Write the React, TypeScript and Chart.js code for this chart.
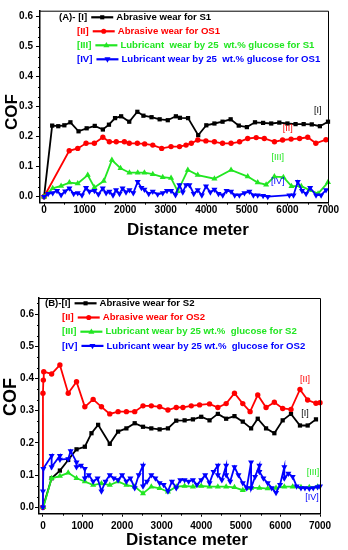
import React, { useEffect, useRef } from 'react';
import { Chart, registerables } from 'chart.js';

Chart.register(...registerables);

const FONT = "'Liberation Sans', Arial, Helvetica, sans-serif";
const COLORS = ['#000000', '#ff0000', '#22e622', '#0000ff'];
const POINT_STYLES = ['rect', 'circle', 'triangle', 'triangle'];
const POINT_ROT = [0, 0, 0, 180];
const POINT_R = [3.0, 2.7, 3.5, 3.5];
const DRAW_ORDER = [3, 2, 1, 0];

const xTickVals = [0, 1000, 2000, 3000, 4000, 5000, 6000, 7000];
const yTickVals = [0, 0.1, 0.2, 0.3, 0.4, 0.5, 0.6];
const xTitle = 'Distance meter';
const yTitle = 'COF';
const noteTags = ['[I]', '[II]', '[III]', '[IV]'];

// ---------- Panel A ----------
const aTags = ['(A)- [I]', '[II]', '[III]', '[IV]'];
const aLabels = [
  'Abrasive wear for S1',
  'Abrasive wear for OS1',
  'Lubricant  wear by 25  wt.% glucose for S1',
  'Lubricant wear by 25  wt.% glucose for OS1',
];
const aS1X = [0, 200, 350, 500, 650, 850, 1050, 1250, 1450, 1600, 1750, 1900, 2100, 2300, 2450, 2650, 2850, 3050, 3250, 3350, 3550, 3800, 4000, 4200, 4400, 4600, 4800, 5000, 5200, 5400, 5600, 5800, 6000, 6200, 6400, 6600, 6800, 7000];
const aS1Y = [0.0, 0.237, 0.235, 0.238, 0.248, 0.218, 0.228, 0.236, 0.224, 0.24, 0.262, 0.268, 0.25, 0.283, 0.27, 0.265, 0.258, 0.255, 0.268, 0.263, 0.262, 0.205, 0.238, 0.244, 0.25, 0.258, 0.237, 0.232, 0.248, 0.246, 0.244, 0.247, 0.244, 0.242, 0.242, 0.241, 0.235, 0.25];
const aOS1X = [0, 620, 830, 1035, 1240, 1450, 1610, 1780, 1980, 2100, 2300, 2480, 2680, 2900, 3130, 3340, 3500, 3630, 3790, 3990, 4200, 4400, 4610, 4820, 5020, 5230, 5430, 5680, 5880, 6090, 6300, 6500, 6700, 6950];
const aOS1Y = [0.0, 0.153, 0.161, 0.178, 0.178, 0.198, 0.183, 0.183, 0.183, 0.178, 0.178, 0.176, 0.172, 0.161, 0.167, 0.167, 0.172, 0.178, 0.189, 0.186, 0.183, 0.178, 0.178, 0.183, 0.194, 0.197, 0.194, 0.183, 0.189, 0.192, 0.194, 0.198, 0.178, 0.19];
const aGS1X = [0, 214, 420, 625, 830, 1077, 1242, 1472, 1672, 1885, 2105, 2309, 2474, 2680, 2926, 3131, 3296, 3544, 3789, 4200, 4610, 5021, 5267, 5475, 5678, 5900, 6100, 6341, 6548, 6755, 7000];
const aGS1Y = [0.0, 0.028, 0.036, 0.047, 0.044, 0.072, 0.031, 0.052, 0.122, 0.095, 0.08, 0.08, 0.08, 0.075, 0.065, 0.062, 0.018, 0.089, 0.072, 0.06, 0.089, 0.067, 0.047, 0.04, 0.067, 0.065, 0.035, 0.035, 0.022, 0.01, 0.048];
const aGOS1X = [0, 100, 214, 320, 420, 520, 625, 730, 830, 935, 1035, 1118, 1242, 1340, 1447, 1530, 1611, 1700, 1775, 1860, 1935, 2020, 2105, 2200, 2309, 2400, 2474, 2580, 2680, 2800, 2926, 3030, 3131, 3240, 3337, 3420, 3500, 3584, 3690, 3789, 3890, 3993, 4100, 4200, 4300, 4405, 4500, 4610, 4700, 4815, 4940, 5062, 5160, 5267, 5400, 5516, 6048, 6150, 6255, 6360, 6460, 6560, 6705, 6830, 6951];
const aGOS1Y = [0.0, 0.01, 0.012, 0.02, 0.006, 0.018, 0.028, 0.01, 0.012, 0.005, 0.03, 0.017, 0.02, 0.008, 0.028, 0.012, 0.017, 0.005, 0.022, 0.01, 0.028, 0.015, 0.022, 0.012, 0.05, 0.03, 0.024, 0.01, 0.017, 0.008, 0.012, 0.02, 0.02, 0.006, 0.039, 0.015, 0.039, 0.039, 0.01, 0.022, 0.005, 0.035, 0.015, 0.024, 0.01, 0.005, 0.02, 0.017, 0.005, 0.005, 0.012, 0.017, 0.005, 0.005, 0.003, 0.0, 0.005, 0.005, 0.05, 0.02, 0.01, 0.03, 0.005, 0.005, 0.022];

// ---------- Panel B ----------
const bTags = ['(B)-[I]', '[II]', '[III]', '[IV]'];
const bLabels = [
  'Abrasive wear for S2',
  'Abrasive wear for OS2',
  'Lubricant wear by 25 wt.%  glucose for S2',
  'Lubricant wear by 25 wt.%  glucose for OS2',
];
const bS2X = [0, 219, 428, 638, 848, 1058, 1226, 1394, 1688, 1898, 2108, 2318, 2528, 2738, 2948, 3158, 3368, 3579, 3789, 3999, 4209, 4419, 4629, 4839, 5049, 5259, 5427, 5637, 5847, 6057, 6267, 6494, 6688, 6898];
const bS2Y = [0.0, 0.09, 0.114, 0.147, 0.18, 0.188, 0.23, 0.256, 0.197, 0.235, 0.245, 0.261, 0.25, 0.245, 0.242, 0.245, 0.269, 0.27, 0.273, 0.281, 0.27, 0.29, 0.275, 0.283, 0.266, 0.245, 0.275, 0.245, 0.23, 0.27, 0.29, 0.254, 0.254, 0.273];
const bOS2X = [0, 0, 10, 20, 219, 428, 638, 848, 1058, 1268, 1478, 1688, 1898, 2108, 2318, 2528, 2738, 2948, 3158, 3368, 3537, 3747, 3957, 4209, 4419, 4629, 4839, 5049, 5234, 5427, 5637, 5847, 6057, 6267, 6494, 6688, 6898, 7000];
const bOS2Y = [0.0, 0.354, 0.395, 0.421, 0.414, 0.442, 0.354, 0.39, 0.312, 0.335, 0.312, 0.29, 0.297, 0.297, 0.297, 0.315, 0.315, 0.312, 0.302, 0.31, 0.31, 0.315, 0.318, 0.321, 0.31, 0.322, 0.354, 0.322, 0.297, 0.349, 0.31, 0.326, 0.307, 0.304, 0.366, 0.333, 0.323, 0.325];
const bGS2X = [10, 219, 428, 638, 848, 1058, 1268, 1478, 1688, 1898, 2108, 2318, 2528, 2738, 2948, 3158, 3368, 3579, 3789, 3999, 4209, 4419, 4629, 4839, 5049, 5259, 5469, 5679, 5889, 6099, 6309, 6519, 6729, 6939];
const bGS2Y = [0.0, 0.09, 0.097, 0.107, 0.09, 0.08, 0.069, 0.074, 0.069, 0.08, 0.069, 0.064, 0.043, 0.064, 0.059, 0.048, 0.064, 0.066, 0.064, 0.066, 0.064, 0.064, 0.064, 0.062, 0.053, 0.06, 0.06, 0.058, 0.06, 0.064, 0.064, 0.062, 0.062, 0.064];
const bGOS2X = [0, 0, 10, 219, 219, 428, 428, 638, 700, 848, 848, 960, 1058, 1058, 1160, 1268, 1380, 1478, 1580, 1688, 1790, 1898, 2000, 2108, 2210, 2318, 2420, 2528, 2528, 2630, 2738, 2840, 2948, 3050, 3158, 3260, 3368, 3470, 3579, 3680, 3789, 3890, 3999, 4100, 4209, 4310, 4419, 4419, 4520, 4629, 4629, 4730, 4839, 4940, 5049, 5150, 5259, 5259, 5360, 5469, 5469, 5570, 5679, 5780, 5889, 5990, 6099, 6099, 6200, 6309, 6410, 6519, 6620, 6729, 6830, 6939, 7000];
const bGOS2Y = [0.0, 0.05, 0.12, 0.16, 0.125, 0.16, 0.148, 0.15, 0.175, 0.14, 0.125, 0.13, 0.12, 0.09, 0.1, 0.08, 0.09, 0.05, 0.08, 0.1, 0.09, 0.085, 0.1, 0.08, 0.09, 0.06, 0.1, 0.13, 0.065, 0.08, 0.1, 0.09, 0.075, 0.07, 0.05, 0.08, 0.06, 0.085, 0.085, 0.08, 0.085, 0.07, 0.085, 0.1, 0.075, 0.11, 0.13, 0.1, 0.085, 0.13, 0.1, 0.08, 0.125, 0.1, 0.075, 0.06, 0.14, 0.06, 0.095, 0.13, 0.11, 0.09, 0.075, 0.06, 0.045, 0.07, 0.125, 0.09, 0.105, 0.095, 0.065, 0.06, 0.06, 0.058, 0.06, 0.063, 0.065];

type Panel = {
  tags: string[];
  labels: string[];
  xs: number[][];
  ys: number[][];
  yMin: number;
  yMax: number;
  padTop: number;
  padRight: number;
  padBottom: number;
  yWidth: number;
  yTickPad: number;
  xTickPad: number;
  legendX0: number;
  legendX: number;
  legendY0: number;
  legendDy: number;
  notes: [number, number][];
  xTitleX: number;
  xTitleY: number;
  yTitleX: number;
  yTitleY: number;
  yTitleSize: number;
};

const panelA: Panel = {
  tags: aTags,
  labels: aLabels,
  xs: [aS1X, aOS1X, aGS1X, aGOS1X],
  ys: [aS1Y, aOS1Y, aGS1Y, aGOS1Y],
  yMin: -0.02,
  yMax: 0.62,
  padTop: 10.7,
  padRight: 20,
  padBottom: 42.3,
  yWidth: 40,
  yTickPad: 3,
  xTickPad: 0,
  legendX0: 59,
  legendX: 77,
  legendY0: 17.3,
  legendDy: 14,
  notes: [[6747, 0.286], [6006, 0.226], [5760, 0.129], [5760, 0.049]],
  xTitleX: 188,
  xTitleY: 235,
  yTitleX: 12.5,
  yTitleY: 112,
  yTitleSize: 17,
};

const panelB: Panel = {
  tags: bTags,
  labels: bLabels,
  xs: [bS2X, bOS2X, bGS2X, bGOS2X],
  ys: [bS2Y, bOS2Y, bGS2Y, bGOS2Y],
  yMin: -0.02,
  yMax: 0.65,
  padTop: 23,
  padRight: 28,
  padBottom: 6.3,
  yWidth: 39,
  yTickPad: 1,
  xTickPad: 5,
  legendX0: 45,
  legendX: 62,
  legendY0: 28.3,
  legendDy: 14.2,
  notes: [[6620, 0.29], [6620, 0.398], [6822, 0.107], [6796, 0.029]],
  xTitleX: 187,
  xTitleY: 270,
  yTitleX: 11.5,
  yTitleY: 122,
  yTitleSize: 18,
};

function drawMarker(ctx: CanvasRenderingContext2D, kind: number, x: number, y: number, r: number) {
  ctx.beginPath();
  if (kind === 0) {
    const s = r * 1.45;
    ctx.rect(x - s / 2, y - s / 2, s, s);
  } else if (kind === 1) {
    ctx.arc(x, y, r, 0, Math.PI * 2);
  } else if (kind === 2) {
    ctx.moveTo(x, y - r);
    ctx.lineTo(x + r * 0.9, y + r * 0.6);
    ctx.lineTo(x - r * 0.9, y + r * 0.6);
    ctx.closePath();
  } else {
    ctx.moveTo(x, y + r);
    ctx.lineTo(x + r * 0.9, y - r * 0.6);
    ctx.lineTo(x - r * 0.9, y - r * 0.6);
    ctx.closePath();
  }
  ctx.fill();
}

function makeDecor(p: Panel) {
  return {
    id: 'decor',
    afterDraw(chart: any) {
      const { ctx, chartArea: ca, scales } = chart;
      const sx = scales.x;
      const sy = scales.y;
      ctx.save();
      // frame top / right
      ctx.strokeStyle = '#000';
      ctx.lineWidth = 1;
      ctx.beginPath();
      ctx.moveTo(ca.left, ca.top + 0.5);
      ctx.lineTo(ca.right + 0.5, ca.top + 0.5);
      ctx.lineTo(ca.right + 0.5, ca.bottom);
      ctx.stroke();
      // minor ticks
      ctx.beginPath();
      for (let i = 0; i < yTickVals.length; i++) {
        for (const f of [1 / 3, 2 / 3]) {
          const v = yTickVals[i] + 0.1 * f;
          if (v > sy.max) continue;
          const py = Math.round(sy.getPixelForValue(v)) + 0.5;
          ctx.moveTo(ca.left, py);
          ctx.lineTo(ca.left - 2, py);
        }
      }
      for (let i = 0; i < xTickVals.length - 1; i++) {
        const v = (xTickVals[i] + xTickVals[i + 1]) / 2;
        const px = Math.round(sx.getPixelForValue(v)) + 0.5;
        ctx.moveTo(px, ca.bottom);
        ctx.lineTo(px, ca.bottom + 2);
      }
      ctx.stroke();

      // legend
      ctx.font = `bold 9.6px ${FONT}`;
      ctx.textBaseline = 'middle';
      ctx.textAlign = 'left';
      for (let i = 0; i < p.labels.length; i++) {
        const col = COLORS[i];
        const y = p.legendY0 + i * p.legendDy;
        let x = i === 0 ? p.legendX0 : p.legendX;
        ctx.fillStyle = col;
        ctx.fillText(p.tags[i], x, y);
        x += ctx.measureText(p.tags[i]).width + 4;
        ctx.strokeStyle = col;
        ctx.lineWidth = 2.2;
        ctx.beginPath();
        ctx.moveTo(x, y);
        ctx.lineTo(x + 22, y);
        ctx.stroke();
        drawMarker(ctx, i, x + 11, y, POINT_R[i] * 0.95);
        x += 25;
        ctx.fillText(p.labels[i], x, y);
      }

      // annotations
      ctx.font = `9px ${FONT}`;
      ctx.textAlign = 'center';
      for (let i = 0; i < p.notes.length; i++) {
        ctx.fillStyle = COLORS[i];
        ctx.fillText(noteTags[i], sx.getPixelForValue(p.notes[i][0]), sy.getPixelForValue(p.notes[i][1]));
      }

      // axis titles
      ctx.fillStyle = '#000';
      ctx.font = `bold 17px ${FONT}`;
      ctx.textAlign = 'center';
      ctx.textBaseline = 'alphabetic';
      ctx.fillText(xTitle, p.xTitleX, p.xTitleY);
      ctx.save();
      ctx.translate(p.yTitleX, p.yTitleY);
      ctx.rotate(-Math.PI / 2);
      ctx.font = `bold ${p.yTitleSize}px ${FONT}`;
      ctx.textBaseline = 'middle';
      ctx.fillText(yTitle, 0, 0);
      ctx.restore();
      ctx.restore();
    },
  };
}

function buildConfig(p: Panel): any {
  const datasets = p.labels.map((label, i) => {
    const xs = p.xs[i];
    const ys = p.ys[i];
    const n = Math.min(xs.length, ys.length);
    const data = [] as { x: number; y: number }[];
    for (let k = 0; k < n; k++) data.push({ x: xs[k], y: ys[k] });
    return {
      label,
      data,
      borderColor: COLORS[i],
      backgroundColor: COLORS[i],
      borderWidth: 1.8,
      pointStyle: POINT_STYLES[i],
      rotation: POINT_ROT[i],
      pointRadius: POINT_R[i],
      pointBorderWidth: 0,
      pointBackgroundColor: COLORS[i],
      tension: 0,
      fill: false,
      clip: false,
      order: DRAW_ORDER[i],
    };
  });
  const tickFont = { family: FONT, size: 10, weight: 'bold', lineHeight: 1 };
  return {
    type: 'line',
    data: { datasets },
    options: {
      responsive: false,
      animation: false,
      devicePixelRatio: 1,
      layout: { padding: { left: 0, top: p.padTop, right: p.padRight, bottom: p.padBottom } },
      plugins: { legend: { display: false }, tooltip: { enabled: false }, title: { display: false } },
      scales: {
        x: {
          type: 'linear',
          min: -100,
          max: 7000,
          afterBuildTicks: (s: any) => {
            s.ticks = xTickVals.map((v) => ({ value: v }));
          },
          afterFit: (s: any) => {
            s.height = 30;
          },
          ticks: {
            color: '#000',
            font: tickFont,
            padding: p.xTickPad,
            maxRotation: 0,
            autoSkip: false,
            callback: (v: any) => String(v),
          },
          grid: { drawOnChartArea: false, drawTicks: true, tickLength: 3, color: '#000', tickWidth: 1 },
          border: { display: true, color: '#000', width: 1.5 },
        },
        y: {
          type: 'linear',
          min: p.yMin,
          max: p.yMax,
          afterBuildTicks: (s: any) => {
            s.ticks = yTickVals.map((v) => ({ value: v }));
          },
          afterFit: (s: any) => {
            s.width = p.yWidth;
          },
          ticks: {
            color: '#000',
            font: tickFont,
            padding: p.yTickPad,
            autoSkip: false,
            callback: (v: any) => Number(v).toFixed(1),
          },
          grid: { drawOnChartArea: false, drawTicks: true, tickLength: 4, color: '#000', tickWidth: 1 },
          border: { display: true, color: '#000', width: 1.5 },
        },
      },
    },
    plugins: [makeDecor(p)],
  };
}

function PanelChart({ panel }: { panel: Panel }) {
  const ref = useRef<HTMLCanvasElement | null>(null);
  useEffect(() => {
    if (!ref.current) return;
    const chart = new Chart(ref.current, buildConfig(panel));
    return () => chart.destroy();
  }, [panel]);
  return <canvas ref={ref} width={348} height={275} style={{ display: 'block', width: 348, height: 275 }} />;
}

export default function App() {
  return (
    <div style={{ position: 'absolute', left: 0, top: 0, width: 348, height: 550, background: '#fff' }}>
      <PanelChart panel={panelA} />
      <PanelChart panel={panelB} />
    </div>
  );
}
